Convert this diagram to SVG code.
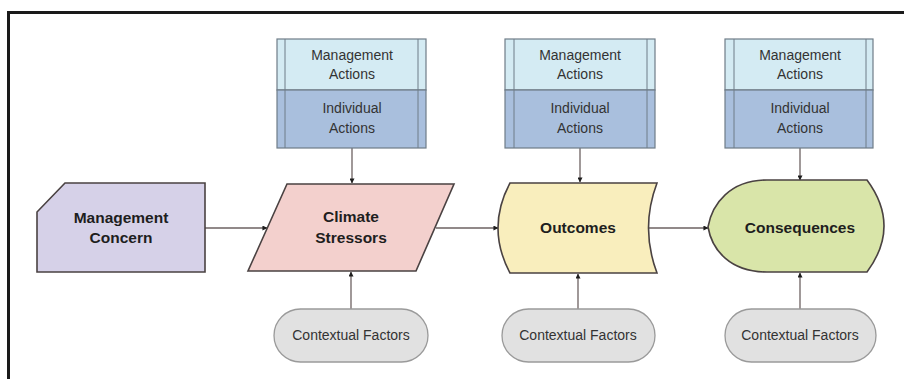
<svg xmlns="http://www.w3.org/2000/svg" width="904" height="379" viewBox="0 0 904 379">
<defs>
<style>
.frame{fill:none;stroke:#1a1a1a;stroke-width:3}
.main{stroke:#4a4242;stroke-width:1.6}
.lbl{font-family:"Liberation Sans",Arial,sans-serif;font-size:15.5px;font-weight:bold;fill:#1e1e1e;text-anchor:middle}
.sm{font-family:"Liberation Sans",Arial,sans-serif;font-size:14px;fill:#333;text-anchor:middle}
.top{fill:#d4ebf3;stroke:#6f7c88;stroke-width:1.2}
.bot{fill:#a9bfdd;stroke:#6f7c88;stroke-width:1.2}
.inner{stroke:#6f7c88;stroke-width:1;fill:none}
.pill{fill:#e1e1e1;stroke:#9a9a9a;stroke-width:1.3}
.conn{stroke:#6d6262;stroke-width:1.3;fill:none;marker-end:url(#ah)}
</style>
<marker id="ah" viewBox="0 0 6 6" refX="5.5" refY="3" markerWidth="5" markerHeight="5" orient="auto" markerUnits="userSpaceOnUse">
<path d="M0,0 L6,3 L0,6 Z" fill="#1e1e1e"/>
</marker>
</defs>
<rect width="904" height="379" fill="#ffffff"/>
<path class="frame" d="M8.5,380 L8.5,12.5 L904,12.5"/>

<g id="connectors">
<line class="conn" x1="205" y1="228" x2="267" y2="228"/>
<line class="conn" x1="436" y1="228" x2="498" y2="228"/>
<line class="conn" x1="648" y1="228" x2="708" y2="228"/>
<line class="conn" x1="352" y1="148" x2="352" y2="183"/>
<line class="conn" x1="580" y1="148" x2="580" y2="182"/>
<line class="conn" x1="800" y1="148" x2="800" y2="180"/>
<line class="conn" x1="351" y1="309" x2="351" y2="272"/>
<line class="conn" x1="578" y1="309" x2="578" y2="274"/>
<line class="conn" x1="800" y1="309" x2="800" y2="273"/>
</g>

<g id="management-concern">
<path class="main" fill="#d6d1e8" d="M65,183 L205,183 L205,272 L37,272 L37,212 Z"/>
<text class="lbl" x="121" y="223">Management</text>
<text class="lbl" x="121" y="243">Concern</text>
</g>

<g id="climate-stressors">
<path class="main" fill="#f3d0cd" d="M287,184 L454,184 L416,271 L248,271 Z"/>
<text class="lbl" x="351" y="222">Climate</text>
<text class="lbl" x="351" y="243">Stressors</text>
</g>

<g id="outcomes">
<path class="main" fill="#f9eebd" d="M510,183 L657,183 Q640,228 657,273 L510,273 Q486,228 510,183 Z"/>
<text class="lbl" x="578" y="233">Outcomes</text>
</g>

<g id="consequences">
<path class="main" fill="#d9e5a9" d="M767,180 L867,180 Q901,226 867,272 L767,272 C730,272 712,250 708,227 C712,204 730,180 767,180 Z"/>
<text class="lbl" x="800" y="233">Consequences</text>
</g>

<g id="actions-1">
<rect class="top" x="277" y="39" width="149" height="51"/>
<rect class="bot" x="277" y="90" width="149" height="58"/>
<line class="inner" x1="285" y1="39" x2="285" y2="148"/>
<line class="inner" x1="418" y1="39" x2="418" y2="148"/>
<text class="sm" x="352" y="60">Management</text>
<text class="sm" x="352" y="79">Actions</text>
<text class="sm" x="352" y="113">Individual</text>
<text class="sm" x="352" y="133">Actions</text>
</g>

<g id="actions-2">
<rect class="top" x="505" y="39" width="150" height="51"/>
<rect class="bot" x="505" y="90" width="150" height="58"/>
<line class="inner" x1="514" y1="39" x2="514" y2="148"/>
<line class="inner" x1="647" y1="39" x2="647" y2="148"/>
<text class="sm" x="580" y="60">Management</text>
<text class="sm" x="580" y="79">Actions</text>
<text class="sm" x="580" y="113">Individual</text>
<text class="sm" x="580" y="133">Actions</text>
</g>

<g id="actions-3">
<rect class="top" x="725" y="39" width="148" height="51"/>
<rect class="bot" x="725" y="90" width="148" height="58"/>
<line class="inner" x1="734" y1="39" x2="734" y2="148"/>
<line class="inner" x1="866" y1="39" x2="866" y2="148"/>
<text class="sm" x="800" y="60">Management</text>
<text class="sm" x="800" y="79">Actions</text>
<text class="sm" x="800" y="113">Individual</text>
<text class="sm" x="800" y="133">Actions</text>
</g>

<g id="contextual-1">
<rect class="pill" x="274" y="309" width="154" height="53" rx="26.5"/>
<text class="sm" x="351" y="340">Contextual Factors</text>
</g>
<g id="contextual-2">
<rect class="pill" x="502" y="309" width="153" height="53" rx="26.5"/>
<text class="sm" x="578" y="340">Contextual Factors</text>
</g>
<g id="contextual-3">
<rect class="pill" x="725" y="309" width="151" height="53" rx="26.5"/>
<text class="sm" x="800" y="340">Contextual Factors</text>
</g>
</svg>
